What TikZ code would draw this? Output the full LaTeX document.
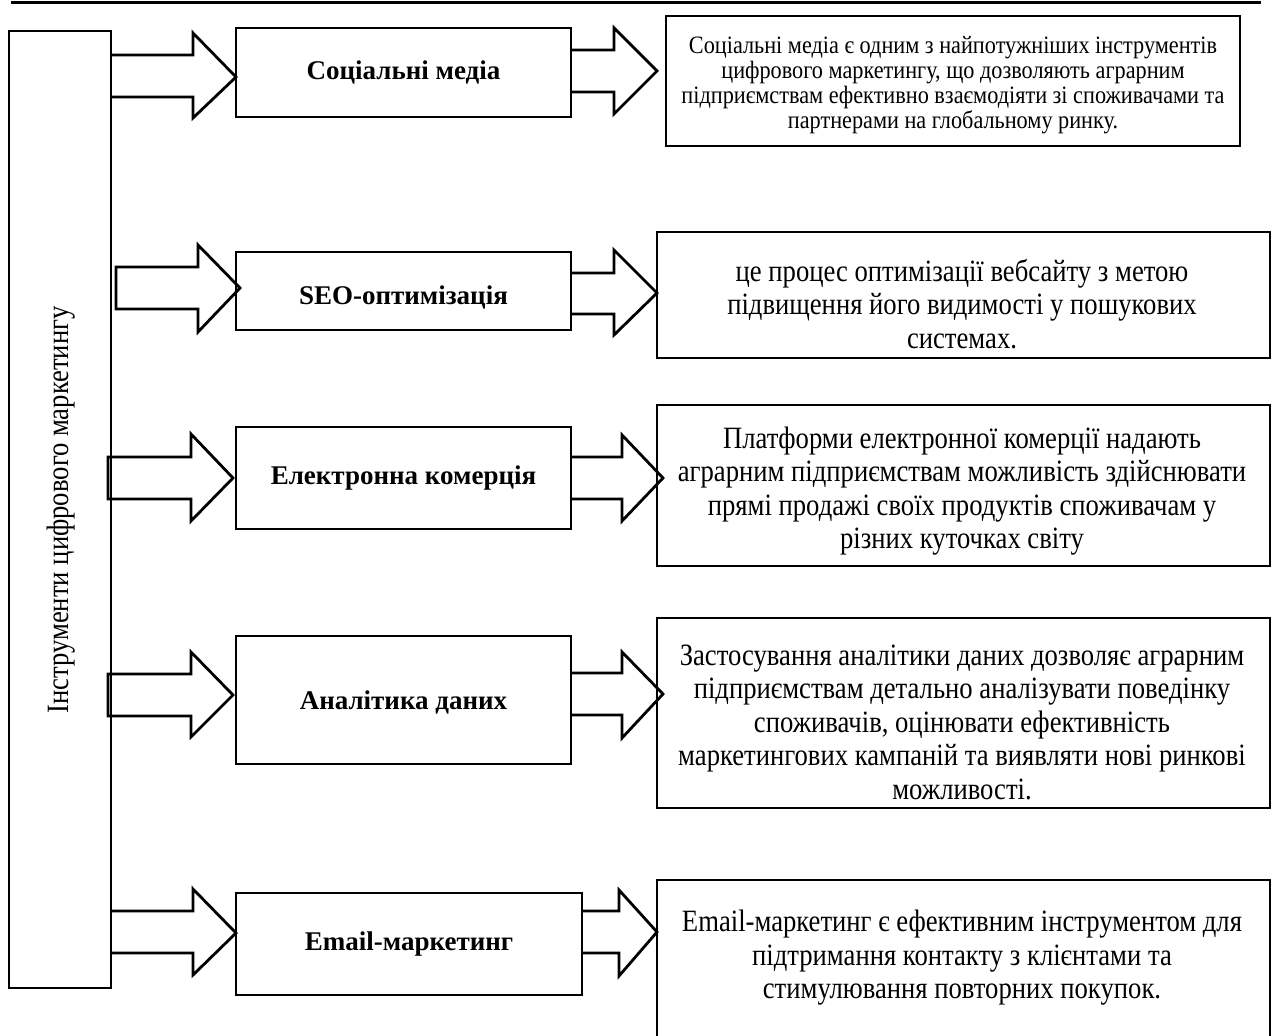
\documentclass[tikz,border=0pt]{standalone}
\usepackage{fontspec}
\setmainfont{Liberation Serif}
\newfontfamily\descfont[FakeStretch=0.86]{Liberation Serif}
\newfontfamily\smallfont[FakeStretch=0.89]{Liberation Serif}
\usetikzlibrary{fit}
\begin{document}
\begin{tikzpicture}[x=0.5pt,y=-0.5pt,
  box/.style={draw, line width=1.4pt, inner sep=0pt},
  blk/.style={draw, line width=1.4pt, line join=miter},
  midtxt/.style={font=\fontsize{13.5}{16}\selectfont\bfseries, align=center},
  desc/.style={font=\descfont\fontsize{15.5}{16.75}\selectfont, align=center},
  descsmall/.style={font=\smallfont\fontsize{12.5}{12.5}\selectfont, align=center},
]
\useasboundingbox (0,0) rectangle (1272,1036);
% top rule
\coordinate (tl) at (11,2.5);
\coordinate (tr) at (1261,2.5);
\draw[line width=1.3pt] (tl) -- (tr);
% left box
\node[box, fit={(9,31)(111,988)}] (tools) {};
\node[rotate=90, font=\descfont\fontsize{15.5}{16}\selectfont] (toolslbl) at (61,510) {Інструменти цифрового маркетингу};
% middle boxes
\node[box, fit={(236,28)(571,117)}] (m1) {};
\node[box, fit={(236,252)(571,330)}] (m2) {};
\node[box, fit={(236,427)(571,529)}] (m3) {};
\node[box, fit={(236,636)(571,764)}] (m4) {};
\node[box, fit={(236,893)(582,995)}] (m5) {};
\node[midtxt] (m1t) at (m1.center) {Соціальні медіа};
\node[midtxt] (m2t) at ([yshift=-3pt]m2.center) {SEO-оптимізація};
\node[midtxt] (m3t) at (m3.center) {Електронна комерція};
\node[midtxt] (m4t) at ([yshift=-1pt]m4.center) {Аналітика даних};
\node[midtxt] (m5t) at (m5.center) {Email-маркетинг};
% right boxes
\node[box, fit={(666,16)(1240,146)}] (r1) {};
\node[box, fit={(657,232)(1270,358)}] (r2) {};
\node[box, fit={(657,405)(1270,566)}] (r3) {};
\node[box, fit={(657,618)(1270,808)}] (r4) {};
\node[box, fit={(657,880)(1270,1045)}] (r5) {};
\node[descsmall] (r1t) at (953,85) {Соціальні медіа є одним з найпотужніших інструментів\\цифрового маркетингу, що дозволяють аграрним\\підприємствам ефективно взаємодіяти зі споживачами та\\партнерами на глобальному ринку.};
\node[desc] (r2t) at (962,304) {це процес оптимізації вебсайту з метою\\підвищення його видимості у пошукових\\системах.};
\node[desc] (r3t) at (962,491) {Платформи електронної комерції надають\\аграрним підприємствам можливість здійснювати\\прямі продажі своїх продуктів споживачам у\\різних куточках світу};
\node[desc] (r4t) at (962,722) {Застосування аналітики даних дозволяє аграрним\\підприємствам детально аналізувати поведінку\\споживачів, оцінювати ефективність\\маркетингових кампаній та виявляти нові ринкові\\можливості.};
\node[desc] (r5t) at (962,958) {Email-маркетинг є ефективним інструментом для\\підтримання контакту з клієнтами та\\стимулювання повторних покупок.};
% left block arrows
\draw[blk] (111,55) -- (193,55) -- (193,33) -- (236,77) -- (193,118) -- (193,97) -- (111,97);
\draw[blk] (116,267) -- (198,267) -- (198,245) -- (240,288) -- (198,332) -- (198,309) -- (116,309) -- cycle;
\draw[blk] (108,457) -- (191,457) -- (191,434) -- (233,478) -- (191,521) -- (191,499) -- (108,499) -- cycle;
\draw[blk] (108,674) -- (191,674) -- (191,652) -- (233,695) -- (191,737) -- (191,716) -- (108,716) -- cycle;
\draw[blk] (111,911) -- (193,911) -- (193,889) -- (236,933) -- (193,975) -- (193,953) -- (111,953);
% right block arrows
\draw[blk] (571,50) -- (614,50) -- (614,28) -- (657,71) -- (614,114) -- (614,92) -- (571,92);
\draw[blk] (571,273) -- (614,273) -- (614,250) -- (657,293) -- (614,335) -- (614,314) -- (571,314);
\draw[blk] (571,457) -- (622,457) -- (622,435) -- (663,478) -- (622,521) -- (622,499) -- (571,499);
\draw[blk] (571,673) -- (622,673) -- (622,652) -- (663,694) -- (622,738) -- (622,715) -- (571,715);
\draw[blk] (582,911) -- (619,911) -- (619,890) -- (657,932) -- (619,976) -- (619,953) -- (582,953);
\end{tikzpicture}
\end{document}
